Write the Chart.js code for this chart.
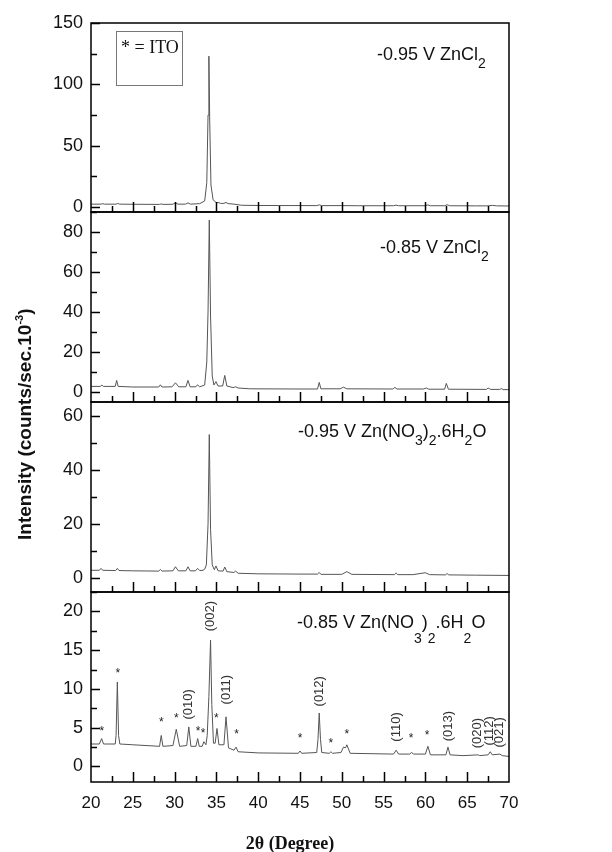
<!DOCTYPE html>
<html><head><meta charset="utf-8">
<script src="https://cdn.jsdelivr.net/npm/chart.js@4/dist/chart.umd.min.js"></script>
<style>
html,body{margin:0;padding:0;background:#fff;width:612px;height:852px;overflow:hidden}
canvas{position:absolute;left:0;top:0}
</style>
</head><body>
<canvas id="c1" width="612" height="852"></canvas>
<canvas id="c2" width="612" height="852"></canvas>
<canvas id="c3" width="612" height="852"></canvas>
<canvas id="c4" width="612" height="852"></canvas>
<script>
// ---------- DATA ----------
const xTicks = [20, 25, 30, 35, 40, 45, 50, 55, 60, 65, 70];

// -0.95 V ZnCl2
const twoTheta1 = [20,21.2,21.4,21.6,23.0,23.2,23.4,25,28.2,28.4,28.6,29.8,30.1,30.4,31.3,31.6,31.9,33.0,33.6,33.85,34.0,34.1,34.2,34.35,34.6,35.0,35.2,35.5,35.9,36.15,36.4,37.0,38,40,47.0,47.3,47.6,50,52,56.2,56.5,56.8,60.0,60.3,60.6,62.3,62.6,62.9,66,67.5,68,68.5,70];
const counts1   = [2.4,2.4,2.8,2.4,2.4,3.0,2.4,2.3,2.2,2.6,2.2,2.3,3.6,2.4,2.4,3.4,2.4,2.8,5,20,75,123,70,18,6,3.5,3.8,3.0,3.0,3.8,2.8,2.5,1.5,1.3,1.2,1.8,1.2,1.2,1.1,1.1,1.6,1.1,1.1,1.8,1.1,1.1,1.9,1.1,1.0,1.0,1.4,1.0,0.9];

// -0.85 V ZnCl2
const twoTheta2 = [20,21.1,21.3,21.5,22.9,23.07,23.25,25,28.1,28.3,28.5,29.7,30.1,30.5,31.35,31.6,31.85,32.55,32.75,33.0,33.6,33.85,34.0,34.15,34.3,34.5,34.7,34.95,35.2,35.75,36.0,36.25,37.0,37.3,37.6,39,45,47.1,47.3,47.5,49.8,50.2,50.6,56.1,56.35,56.6,59.8,60.1,60.4,62.3,62.5,62.75,67.3,67.5,67.8,68.9,69.1,69.3,70];
const counts2   = [2.8,2.8,3.4,2.8,2.8,5.8,2.8,2.5,2.5,3.6,2.5,2.6,4.6,2.6,2.6,5.8,2.6,2.6,3.6,2.6,3.5,15,40,86,38,8,3.5,5.2,3.0,3.0,8.3,3.0,2.2,2.6,2.0,1.6,1.5,1.5,4.8,1.6,1.6,2.4,1.6,1.5,2.3,1.5,1.5,2.0,1.4,1.4,4.3,1.4,1.3,2.0,1.3,1.3,1.7,1.2,1.2];

// -0.95 V Zn(NO3)2.6H2O
const twoTheta3 = [20,21.0,21.2,21.4,22.95,23.15,23.35,25,28.1,28.3,28.5,29.8,30.1,30.45,31.35,31.6,31.85,32.5,32.75,33.0,33.4,33.6,33.8,34.0,34.15,34.3,34.5,34.75,34.95,35.2,35.8,36.0,36.25,37.1,37.3,37.6,40,45,47.1,47.3,47.5,50,50.6,51.2,56.3,56.5,56.7,58.5,60,60.5,62.4,62.6,62.8,66,70];
const counts3   = [3.0,3.0,3.7,3.0,2.9,3.7,2.9,2.8,2.7,3.3,2.7,2.8,4.3,2.8,2.8,4.3,2.8,2.8,3.7,2.9,3.0,3.4,5,20,53,18,5,3.2,4.6,2.8,2.7,4.2,2.5,2.2,2.7,1.9,1.7,1.6,1.6,2.2,1.5,1.5,2.5,1.5,1.4,2.0,1.4,1.4,2.1,1.4,1.3,1.8,1.3,1.2,1.1];

// -0.85 V Zn(NO3)2.6H2O
const twoTheta4 = [20,21.0,21.27,21.5,22.9,23.0,23.15,23.3,23.45,25,28.2,28.4,28.6,29.8,30.2,30.6,31.45,31.7,31.95,32.55,32.76,32.95,33.3,33.5,33.75,33.9,34.1,34.3,34.45,34.65,34.85,35.07,35.3,35.9,36.15,36.45,37.1,37.35,37.6,40,44.8,45.0,45.2,47.0,47.15,47.3,47.45,47.6,48.5,48.7,48.9,49.9,50.2,50.45,50.6,51.0,56.2,56.5,56.8,58.1,58.35,58.6,60.0,60.3,60.6,62.45,62.7,62.95,64.5,66.3,66.5,67.5,67.75,68.0,68.9,69.2,70];
const counts4   = [2.9,2.9,3.6,2.9,2.9,4,10.9,4,2.9,2.8,2.6,4.0,2.6,2.7,4.8,2.6,2.7,5.1,2.6,2.6,3.6,2.6,2.6,3.2,2.8,4,9,16.3,8,3.0,3.0,4.9,2.8,2.8,6.4,2.4,2.1,2.5,1.9,1.75,1.7,2.0,1.7,1.8,3.5,6.9,3.5,1.8,1.7,1.9,1.7,1.8,2.5,2.4,2.8,1.7,1.6,2.1,1.6,1.6,1.8,1.6,1.6,2.6,1.5,1.5,2.5,1.5,1.4,1.5,1.4,1.5,1.9,1.5,1.6,1.4,1.3];

// ITO markers (bottom panel)
const starX = [21.3, 23.2, 28.4, 30.2, 32.8, 33.4, 35.0, 37.4, 45.0, 48.7, 50.6, 58.3, 60.2];
const starY = [5.0, 12.4, 6.1, 6.7, 4.9, 4.7, 6.6, 4.6, 4.0, 3.4, 4.6, 4.0, 4.4];
// hkl labels (bottom panel)
const hklLabels = ['(010)','(002)','(011)','(012)','(110)','(013)','(020)','(112)','(021)'];
const hklX = [31.65, 34.3, 36.2, 47.3, 56.5, 62.7, 66.2, 67.6, 68.9];
const hklY = [8.0, 19.4, 9.9, 9.7, 5.1, 5.2, 4.3, 4.6, 4.4];

// panel y ranges and tick steps
const yMins  = [-4, -5, -5, -2];
const yMaxs  = [150, 90, 65, 22.5];
const ySteps = [50, 20, 20, 5];

// panel labels as [text, 'n'|'sub'] runs
const panelLabels = [
  [['-0.95 V ZnCl','n'],['2','sub']],
  [['-0.85 V ZnCl','n'],['2','sub']],
  [['-0.95 V Zn(NO','n'],['3','sub'],[')','n'],['2','sub'],['.6H','n'],['2','sub'],['O','n']],
  [['-0.85 V Zn(NO','n'],['3','sub'],[')','n'],['2','sub'],['.6H','n'],['2','sub'],['O','n']]
];

// ---------- LAYOUT ----------
const W = 612, H = 852;
const L = 91, R = 509;
const tops = [23, 212, 402, 592];
const bots = [212, 402, 592, 782];
const labelPos = [[377, 60, 8], [380, 253, 8], [298, 437, 8], [297, 628, 15]];
const SANS = '"Liberation Sans", Arial, Helvetica, sans-serif';
const SERIF = '"Liberation Serif", "Times New Roman", Times, serif';

function rich(ctx, x, y, runs, size, subSize, subDy) {
  let cx = x;
  for (const [t, k] of runs) {
    const s = k === 'sub' ? subSize : size;
    ctx.font = s + 'px ' + SANS;
    ctx.fillText(t, cx, k === 'sub' ? y + subDy : y);
    cx += ctx.measureText(t).width;
  }
}

function framePlugin(i) {
  return {
    id: 'frame' + i,
    afterDatasetsDraw(chart) {
      const {ctx, chartArea: a, scales: {x, y}} = chart;
      ctx.save();
      ctx.strokeStyle = '#000';
      ctx.lineWidth = 1.5;
      ctx.strokeRect(a.left, a.top, a.right - a.left, a.bottom - a.top);
      ctx.beginPath();
      for (let v = 20; v <= 70; v += 2.5) {
        if (v === 20 || v === 70) continue;
        const px = Math.round(x.getPixelForValue(v)) + 0.5;
        const major = Math.abs(v % 5) < 1e-6;
        ctx.moveTo(px, a.bottom);
        ctx.lineTo(px, a.bottom - (major ? 10 : 6));
      }
      const st = ySteps[i];
      for (let v = 0; v <= yMaxs[i] + 1e-6; v += st / 2) {
        const py = Math.round(y.getPixelForValue(v)) + 0.5;
        const major = Math.abs((v / st) - Math.round(v / st)) < 1e-6;
        ctx.moveTo(a.left, py);
        ctx.lineTo(a.left + (major ? 9 : 6), py);
      }
      ctx.stroke();

      ctx.fillStyle = '#111';
      ctx.textBaseline = 'alphabetic';
      ctx.textAlign = 'left';
      const [lx, ly, sd] = labelPos[i];
      rich(ctx, lx, ly, panelLabels[i], 18, 14, sd);

      if (i === 0) {
        ctx.strokeStyle = '#777';
        ctx.lineWidth = 1;
        ctx.strokeRect(116.5, 31.5, 66, 54);
        ctx.fillStyle = '#111';
        ctx.font = '18px ' + SERIF;
        ctx.fillText('* = ITO', 121, 53);
      }
      if (i === 3) {
        ctx.fillStyle = '#222';
        ctx.font = '12px ' + SANS;
        ctx.textAlign = 'center';
        for (let k = 0; k < starX.length; k++) {
          const px = x.getPixelForValue(starX[k]);
          const py = y.getPixelForValue(starY[k]);
          ctx.fillText('*', px, py + 7);
        }
        ctx.font = '13px ' + SANS;
        ctx.fillStyle = '#333';
        ctx.textAlign = 'center';
        ctx.textBaseline = 'middle';
        for (let k = 0; k < hklLabels.length; k++) {
          const px = x.getPixelForValue(hklX[k]);
          const py = y.getPixelForValue(hklY[k]);
          ctx.save();
          ctx.translate(px, py);
          ctx.rotate(-Math.PI / 2);
          ctx.fillText(hklLabels[k], 0, 0);
          ctx.restore();
        }
        ctx.fillStyle = '#111';
        ctx.textAlign = 'center';
        ctx.textBaseline = 'alphabetic';
        ctx.font = 'bold 18px ' + SERIF;
        ctx.fillText('2\u03B8 (Degree)', 290, 849);

        ctx.save();
        ctx.translate(31, 540);
        ctx.rotate(-Math.PI / 2);
        ctx.textAlign = 'left';
        let cx = 0;
        const runs = [['Intensity (counts/sec.10', 19, 0], ['-3', 11, -8], [')', 19, 0]];
        for (const [t, s, dy] of runs) {
          ctx.font = 'bold ' + s + 'px ' + SANS;
          ctx.fillText(t, cx, dy);
          cx += ctx.measureText(t).width;
        }
        ctx.restore();
      }
      ctx.restore();
    }
  };
}

const sets = [[twoTheta1, counts1], [twoTheta2, counts2], [twoTheta3, counts3], [twoTheta4, counts4]];

sets.forEach(([xs, ys], i) => {
  const showX = i === 3;
  const xAxisH = 30;
  new Chart(document.getElementById('c' + (i + 1)), {
    type: 'line',
    data: {
      datasets: [{
        data: xs.map((v, k) => ({x: v, y: ys[k]})),
        borderColor: '#555',
        borderWidth: 1,
        pointRadius: 0,
        tension: 0,
        fill: false
      }]
    },
    options: {
      responsive: false,
      animation: false,
      events: [],
      layout: {padding: {top: tops[i], bottom: H - bots[i] - (showX ? xAxisH : 0), left: 0, right: W - R}},
      plugins: {legend: {display: false}, tooltip: {enabled: false}, title: {display: false}},
      scales: {
        x: {
          type: 'linear', min: 20, max: 70,
          display: showX,
          grid: {display: false, drawTicks: false},
          border: {display: false},
          afterBuildTicks: s => { s.ticks = xTicks.map(v => ({value: v})); },
          afterFit: s => { s.height = showX ? xAxisH : 0; },
          ticks: {padding: 11, color: '#111', font: {family: SANS, size: 17}, maxRotation: 0, autoSkip: false}
        },
        y: {
          type: 'linear', min: yMins[i], max: yMaxs[i],
          grid: {display: false, drawTicks: false},
          border: {display: false},
          afterFit: s => { s.width = L; },
          ticks: {stepSize: ySteps[i], includeBounds: false, padding: 8, color: '#111', font: {family: SANS, size: 18}}
        }
      }
    },
    plugins: [framePlugin(i)]
  });
});
</script>
</body></html>
